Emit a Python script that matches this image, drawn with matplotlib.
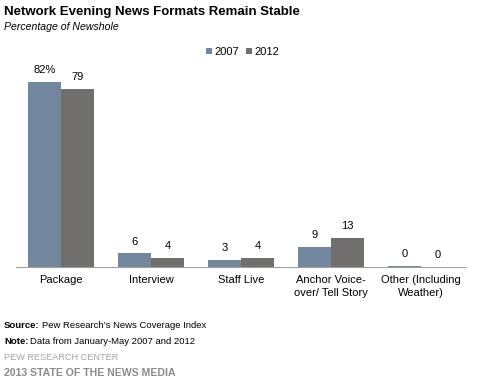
import numpy as np
import matplotlib.pyplot as plt

plt.rcParams['font.family'] = ['Liberation Sans', 'DejaVu Sans']

categories = ['Package', 'Interview', 'Staff Live', 'Anchor Voice-\nover/ Tell Story', 'Other (Including\nWeather)']
vals_2007 = [82, 6, 3, 9, 0.4]
vals_2012 = [79, 4, 4, 13, 0]
labels_2007 = ['82%', '6', '3', '9', '0']
labels_2012 = ['79', '4', '4', '13', '0']
series = ['2007', '2012']
colors = ['#72869e', '#716e6e']

W, H = 478, 382
fig = plt.figure(figsize=(W / 100, H / 100), dpi=100)
ax = fig.add_axes([16 / W, 115 / H, 450 / W, 185 / H])

x = np.arange(len(categories))
bw = 33 / 90
b1 = ax.bar(x - bw / 2, vals_2007, bw, color=colors[0], label=series[0])
b2 = ax.bar(x + bw / 2, vals_2012, bw, color=colors[1], label=series[1])

for bars, labs in ((b1, labels_2007), (b2, labels_2012)):
    for b, lab in zip(bars, labs):
        ax.annotate(lab, (b.get_x() + b.get_width() / 2, b.get_height()),
                    xytext=(0, 5), textcoords='offset points',
                    ha='center', va='bottom', fontsize=8, annotation_clip=False)

ax.set_xlim(-0.5, len(categories) - 0.5)
ax.set_ylim(0, 82)
ax.set_yticks([])
ax.set_xticks(x)
ax.set_xticklabels(categories, fontsize=8, linespacing=1.35)
ax.tick_params(axis='x', length=0, pad=6)
for s in ['top', 'right', 'left']:
    ax.spines[s].set_visible(False)
ax.spines['bottom'].set_color('#a0a0a0')

ax.legend(loc='center left', bbox_to_anchor=(190 / 450, 1 + 30 / 185), ncol=2, frameon=False,
          fontsize=8, handlelength=0.55, handleheight=0.55, handletextpad=0.2,
          columnspacing=0.6, borderaxespad=0, borderpad=0)

fig.text(4 / W, 1 - 12 / H, 'Network Evening News Formats Remain Stable',
         fontsize=9.5, fontweight='bold', va='center')
fig.text(4 / W, 1 - 27 / H, 'Percentage of Newshole', fontsize=7.6, style='italic', va='center')

src = fig.text(4 / W, 1 - 326 / H, 'Source:', fontsize=6.8, fontweight='bold', va='center')
fig.canvas.draw()
w1 = src.get_window_extent().width
fig.text((4 + w1 + 2) / W, 1 - 326 / H, 'Pew Research’s News Coverage Index', fontsize=6.8, va='center')
note = fig.text(4 / W, 1 - 341 / H, 'Note:', fontsize=6.8, fontweight='bold', va='center')
fig.canvas.draw()
w2 = note.get_window_extent().width
fig.text((4 + w2 + 2) / W, 1 - 341 / H, 'Data from January-May 2007 and 2012', fontsize=6.8, va='center')
fig.text(4 / W, 1 - 357 / H, 'PEW RESEARCH CENTER', fontsize=6.6, color='#a6a6a6', va='center')
fig.text(4 / W, 1 - 373 / H, '2013 STATE OF THE NEWS MEDIA', fontsize=7.6, color='#8c8c8c',
         fontweight='bold', va='center')

fig.savefig('out.png', dpi=100, facecolor='white')
